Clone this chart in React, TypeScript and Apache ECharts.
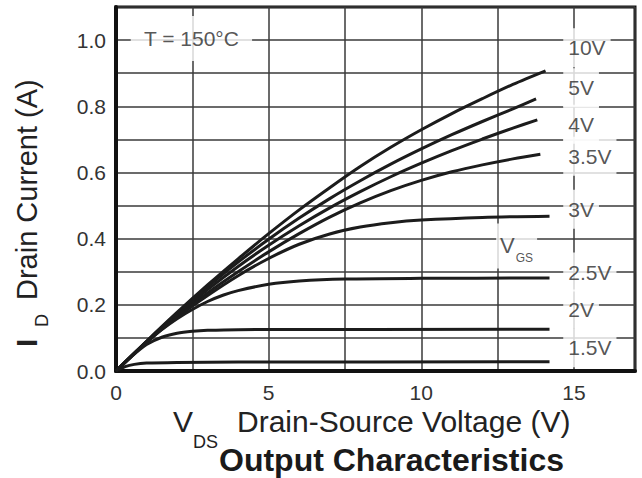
import React, { useEffect, useRef } from 'react';
import * as echarts from 'echarts';

// V_GS curve names
const vgsNames = ['10V', '5V', '4V', '3.5V', '3V', '2.5V', '2V', '1.5V'];

// [VDS (V), ID (A)]
const curve10V = [[0, 0], [1, 0.09], [2, 0.177], [3, 0.26], [4, 0.339], [5, 0.415], [6, 0.487], [7, 0.554], [8, 0.618], [9, 0.676], [10, 0.729], [11, 0.778], [12, 0.823], [13, 0.866], [14.07, 0.907]];
const curve5V = [[0, 0], [1, 0.089], [2, 0.174], [3, 0.254], [4, 0.329], [5, 0.398], [6, 0.462], [7, 0.521], [8, 0.575], [9, 0.625], [10, 0.671], [11, 0.714], [12, 0.754], [13, 0.792], [13.76, 0.822]];
const curve4V = [[0, 0], [1, 0.088], [2, 0.17], [3, 0.246], [4, 0.316], [5, 0.38], [6, 0.439], [7, 0.493], [8, 0.542], [9, 0.587], [10, 0.628], [11, 0.666], [12, 0.701], [13, 0.734], [13.8, 0.759]];
const curve35V = [[0, 0], [1, 0.088], [2, 0.166], [3, 0.236], [4, 0.3], [5, 0.36], [6, 0.415], [7, 0.465], [8, 0.508], [9, 0.545], [10, 0.576], [11, 0.602], [12, 0.623], [13, 0.641], [13.9, 0.655]];
const curve3V = [[0, 0], [1, 0.087], [2, 0.162], [3, 0.228], [4, 0.288], [5, 0.34], [6, 0.383], [7, 0.414], [8, 0.435], [9, 0.448], [10, 0.456], [12, 0.464], [14.2, 0.468]];
const curve25V = [[0, 0], [0.5, 0.044], [1, 0.086], [1.5, 0.125], [2, 0.158], [2.5, 0.186], [3, 0.21], [3.5, 0.229], [4, 0.243], [5, 0.262], [6, 0.272], [7.5, 0.278], [10, 0.28], [14.2, 0.281]];
const curve2V = [[0, 0], [0.5, 0.043], [1, 0.08], [1.5, 0.102], [2, 0.114], [2.5, 0.12], [3, 0.123], [4, 0.125], [14.2, 0.126]];
const curve15V = [[0, 0], [0.3, 0.013], [0.6, 0.02], [1, 0.024], [2, 0.026], [4, 0.027], [14.2, 0.028]];
const curves = [curve10V, curve5V, curve4V, curve35V, curve3V, curve25V, curve2V, curve15V];

// curve label anchors (data coordinates)
const labelX = [14.65, 14.65, 14.65, 14.65, 14.65, 14.65, 14.65, 14.65];
const labelY = [0.977, 0.856, 0.746, 0.649, 0.489, 0.299, 0.187, 0.07];
const vgsLabelPos = [12.45, 0.378];
const tempLabel = 'T = 150°C';
const tempLabelPos = [2.47, 1.005];

// axes
const xMin = 0, xMax = 17, xStep = 2.5;
const yMin = 0, yMax = 1.1, yStep = 0.1;

const FONT = '"Liberation Sans", Arial, Helvetica, sans-serif';
const INK = '#1c1c1c';
const GRIDC = '#3a3a3a';

export default function App() {
  const ref = useRef<HTMLDivElement>(null);
  useEffect(() => {
    document.body.style.margin = '0';
    const chart = echarts.init(ref.current!, null, { renderer: 'svg' });
    const lineSeries = curves.map((c, i) => ({
      type: 'line',
      name: vgsNames[i],
      data: c,
      smooth: 0.3,
      showSymbol: false,
      symbol: 'none',
      silent: true,
      lineStyle: { color: INK, width: 3 },
      z: 3,
    }));
    const labelData = vgsNames.map((n, i) => ({ value: [labelX[i], labelY[i]], name: n }));
    chart.setOption({
      animation: false,
      backgroundColor: '#fff',
      grid: {
        left: 116, right: 7, top: 7, bottom: 107,
        show: true, borderColor: '#111', borderWidth: 3, backgroundColor: 'transparent',
      },
      xAxis: {
        type: 'value', min: xMin, max: xMax, interval: xStep,
        axisLine: { show: true, onZero: false, lineStyle: { color: '#111', width: 4 } },
        axisTick: { show: false },
        splitLine: { show: true, lineStyle: { color: GRIDC, width: 1.5 } },
        axisLabel: {
          margin: 11, fontSize: 21, color: '#333', fontFamily: FONT,
          formatter: (v: number) => (Math.abs(v % 5) < 1e-9 && v <= 15 ? String(v) : ''),
        },
      },
      yAxis: {
        type: 'value', min: yMin, max: yMax, interval: yStep,
        axisLine: { show: true, onZero: false, lineStyle: { color: '#111', width: 4 } },
        axisTick: { show: false },
        splitLine: { show: true, lineStyle: { color: GRIDC, width: 1.5 } },
        axisLabel: {
          margin: 10, fontSize: 21, color: '#333', fontFamily: FONT,
          formatter: (v: number) => {
            const k = Math.round(v * 10);
            return k % 2 === 0 && k <= 10 ? (k / 10).toFixed(1) : '';
          },
        },
      },
      series: [
        ...lineSeries,
        {
          type: 'scatter', symbolSize: 0, silent: true, z: 4,
          data: labelData,
          label: {
            show: true, position: 'inside', align: 'left', verticalAlign: 'middle',
            formatter: (p: any) => p.name,
            fontSize: 21, fontFamily: FONT, color: '#2a2a2a',
            backgroundColor: '#fff', padding: [9, 5],
          },
        },
        {
          type: 'scatter', symbolSize: 0, silent: true, z: 4,
          data: [{ value: vgsLabelPos, name: 'VGS' }],
          label: {
            show: true, position: 'inside', align: 'left', verticalAlign: 'middle',
            formatter: '{v|V}{s|GS}',
            backgroundColor: '#fff', padding: [4, 4],
            rich: {
              v: { fontSize: 22, fontFamily: FONT, color: '#2a2a2a' },
              s: { fontSize: 12, fontFamily: FONT, color: '#2a2a2a', padding: [25, 0, 0, 1] },
            },
          },
        },
        {
          type: 'scatter', symbolSize: 0, silent: true, z: 4,
          data: [{ value: tempLabelPos, name: tempLabel }],
          label: {
            show: true, position: 'inside', align: 'center', verticalAlign: 'middle',
            formatter: (p: any) => p.name,
            fontSize: 21, fontFamily: FONT, color: '#2a2a2a',
            backgroundColor: '#fff', padding: [12, 13],
          },
        },
      ],
      graphic: [
        // y axis title
        { type: 'text', x: 26, y: 347, rotation: Math.PI / 2, silent: true,
          style: { text: 'I', font: `bold 30px ${FONT}`, fill: '#222', align: 'left', verticalAlign: 'middle' } },
        { type: 'text', x: 41.5, y: 327, rotation: Math.PI / 2, silent: true,
          style: { text: 'D', font: `18px ${FONT}`, fill: '#222', align: 'left', verticalAlign: 'middle' } },
        { type: 'text', x: 26.5, y: 300, rotation: Math.PI / 2, silent: true,
          style: { text: 'Drain Current (A)', font: `29px ${FONT}`, fill: '#222', align: 'left', verticalAlign: 'middle' } },
        // x axis title
        { type: 'text', x: 173, y: 421, silent: true,
          style: { text: 'V', font: `30px ${FONT}`, fill: '#222', align: 'left', verticalAlign: 'middle' } },
        { type: 'text', x: 193, y: 441.5, silent: true,
          style: { text: 'DS', font: `18px ${FONT}`, fill: '#222', align: 'left', verticalAlign: 'middle' } },
        { type: 'text', x: 237, y: 421, silent: true,
          style: { text: 'Drain-Source Voltage (V)', font: `30px ${FONT}`, fill: '#222', align: 'left', verticalAlign: 'middle' } },
        // caption
        { type: 'text', x: 219, y: 460, silent: true,
          style: { text: 'Output Characteristics', font: `bold 32px ${FONT}`, fill: '#1a1a1a', align: 'left', verticalAlign: 'middle' } },
      ],
    });
    return () => chart.dispose();
  }, []);
  return <div ref={ref} style={{ width: 642, height: 478 }} />;
}
